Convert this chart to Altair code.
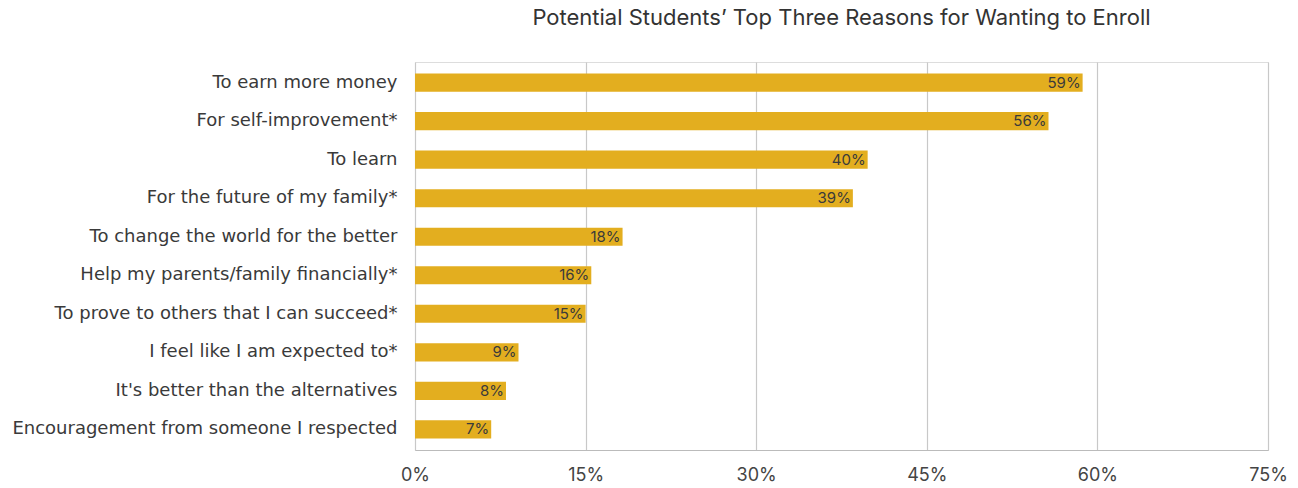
import altair as alt
import pandas as pd

reasons = [
    "To earn more money",
    "For self-improvement*",
    "To learn",
    "For the future of my family*",
    "To change the world for the better",
    "Help my parents/family financially*",
    "To prove to others that I can succeed*",
    "I feel like I am expected to*",
    "It's better than the alternatives",
    "Encouragement from someone I respected",
]
values = [58.7, 55.7, 39.8, 38.5, 18.25, 15.5, 15.0, 9.1, 8.0, 6.7]
labels = ["59%", "56%", "40%", "39%", "18%", "16%", "15%", "9%", "8%", "7%"]
tick_values = [0, 15, 30, 45, 60, 75]

df = pd.DataFrame({"reason": reasons, "value": values, "label": labels})

FONT = "DejaVu Sans"

y_enc = alt.Y("reason:N", sort=reasons, title=None,
              scale=alt.Scale(paddingInner=0.53, paddingOuter=0.3),
              axis=alt.Axis(labelFontSize=18, labelColor="#3a3a3a", labelPadding=18,
                            ticks=False, domain=False, labelFont=FONT, labelLimit=420))
x_enc = alt.X("value:Q", title=None,
              scale=alt.Scale(domain=[0, 75], nice=False),
              axis=alt.Axis(values=tick_values, labelExpr="datum.value + '%'",
                            labelFontSize=18, labelColor="#444444", labelPadding=16,
                            ticks=False, domain=True, domainColor="#bbbbbb",
                            gridColor="#c8c8c8", gridWidth=1.2, labelFont="Inter",
                            labelFlush=False))

bars = alt.Chart(df).mark_bar(color="#E3AE1F").encode(x=x_enc, y=y_enc)
text = alt.Chart(df).mark_text(align="right", dx=-2, fontSize=15, color="#3a3a3a",
                               font="Inter").encode(
    x=alt.X("value:Q"), y=alt.Y("reason:N", sort=reasons), text="label:N")

chart = (bars + text).properties(
    width=853, height=388,
    autosize=alt.AutoSizeParams(type="none"),
    padding={"left": 415, "top": 62, "right": 30, "bottom": 38},
    title=alt.TitleParams("Potential Students\u2019 Top Three Reasons for Wanting to Enroll",
                          fontSize=22, fontWeight="normal", color="#333333", font="Inter",
                          anchor="middle", offset=32),
).configure_view(stroke=None).configure(background="white")

chart.save("out.html", embed_options={"renderer": "svg", "actions": False})
